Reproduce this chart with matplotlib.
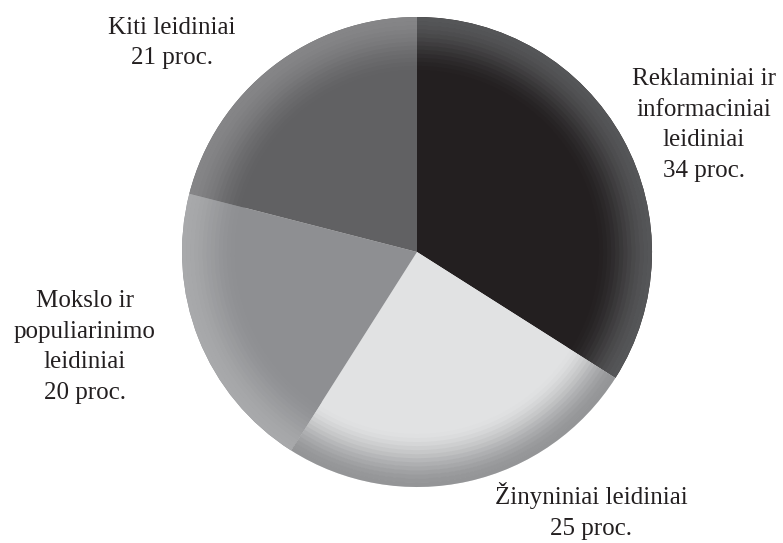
import numpy as np
import matplotlib.pyplot as plt
from matplotlib.colors import to_rgb

# data
labels = ["Reklaminiai ir\ninformaciniai\nleidiniai\n34 proc.",
          "Žinyniniai leidiniai\n25 proc.",
          "Mokslo ir\npopuliarinimo\nleidiniai\n20 proc.",
          "Kiti leidiniai\n21 proc."]
shares = [34, 25, 20, 21]
base_colors = ['#231f20', '#e1e2e3', '#8e8f92', '#616163']
rim_colors = ['#555658', '#949597', '#a8a9ab', '#858587']

W, H = 783, 543
fig = plt.figure(figsize=(W / 100, H / 100), dpi=100)
ax = fig.add_axes([0, 0, 1, 1])

cx, cy, R = 417, H - 252, 235

# flat pie first
ax.pie(shares, colors=base_colors, startangle=90, counterclock=False,
       center=(cx, cy), radius=R, frame=True,
       wedgeprops=dict(linewidth=0))

# soft bevel towards the rim, drawn as thin rings
n = 14
r0 = 0.76
for k in range(n):
    f_out = r0 + (1 - r0) * (k + 1) / n
    t = (k + 0.5) / n
    t = t * t * (3 - 2 * t)
    cols = [tuple((1 - t) * np.array(to_rgb(b)) + t * np.array(to_rgb(r)))
            for b, r in zip(base_colors, rim_colors)]
    ax.pie(shares, colors=cols, startangle=90, counterclock=False,
           center=(cx, cy), radius=R * f_out, frame=True,
           wedgeprops=dict(width=R * (1 - r0) / n + 0.6, linewidth=0))

ax.set_xlim(0, W)
ax.set_ylim(0, H)
ax.set_aspect('equal')
ax.axis('off')

font = dict(family='Liberation Serif', fontsize=18, color='#231f20',
            ha='center', va='center', linespacing=1.5)
ax.text(704, H - 125, labels[0], **font)
ax.text(591, H - 511, labels[1], **font)
ax.text(85, H - 347, labels[2], **font)
ax.text(172, H - 43, labels[3], **font)

fig.savefig('out.png', dpi=100)
